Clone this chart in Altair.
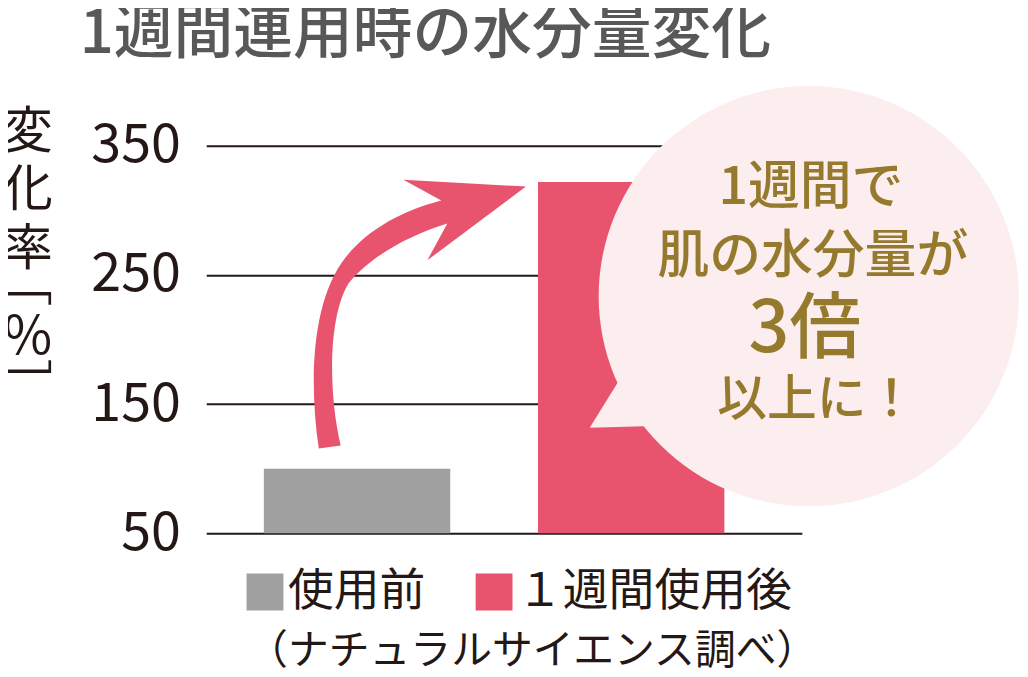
import altair as alt
import pandas as pd

# ---- data ----
categories = ["使用前", "１週間使用後"]
values = [100, 322]
bar_colors = ["#A0A0A0", "#E8546D"]
y_ticks = [50, 150, 250, 350]
title_text = "1週間連用時の水分量変化"
y_title_chars = ["変", "化", "率", "﹇", "%", "﹈"]
bubble_lines = ["1週間で", "肌の水分量が", "3倍", "以上に！"]
note_text = "（ナチュラルサイエンス調べ）"

FONT = "Noto Sans CJK JP"
PINK = "#E8546D"
BUBBLE = "#FCEDEF"
GOLD = "#957A2E"
DARK = "#231815"
TITLE_GRAY = "#595757"

# plot area origin on page: (207,145); plot size 598 x 389
OX, OY = 207, 145


def shape_path(cmds, cx, cy, unit):
    out = []
    for c in cmds:
        if isinstance(c, str):
            out.append(c)
        else:
            x, y = c
            out.append(f"{(x - cx) / unit:.4f},{(y - cy) / unit:.4f}")
    return " ".join(out)


arrow_cmds = [
    "M", (320, 449),
    "C", (310, 380), (313, 300), (347, 257),
    "C", (370, 228), (405, 210), (443, 200),
    "L", (405, 179),
    "L", (528, 186),
    "L", (429, 260),
    "L", (449, 223),
    "C", (410, 235), (372, 256), (350, 283),
    "C", (330, 315), (329, 390), (342, 446),
    "Z",
]
ARROW_C = (424, 314)
arrow_shape = shape_path(arrow_cmds, ARROW_C[0], ARROW_C[1], 150)

tail_cmds = ["M", (625, 375), "L", (592, 428), "L", (665, 426), "Z"]
TAIL_C = (627, 410)
tail_shape = shape_path(tail_cmds, TAIL_C[0], TAIL_C[1], 50)

df = pd.DataFrame({"cat": categories, "value": values})
one = pd.DataFrame({"k": [0]})

bars = alt.Chart(df).mark_bar().encode(
    x=alt.X(
        "cat:N",
        sort=categories,
        axis=None,
        scale=alt.Scale(paddingInner=0.32, paddingOuter=0.2464, align=0.4265),
    ),
    y=alt.Y(
        "value:Q",
        scale=alt.Scale(domain=[50, 350], nice=False, zero=False),
        axis=alt.Axis(
            values=y_ticks,
            grid=True,
            gridColor=DARK,
            gridWidth=2,
            gridOpacity=1,
            domain=False,
            ticks=False,
            labelFontSize=54,
            labelFont=FONT,
            labelColor=DARK,
            labelPadding=26,
            title=None,
        ),
    ),
    y2=alt.datum(50),
    color=alt.Color(
        "cat:N",
        sort=categories,
        scale=alt.Scale(domain=categories, range=bar_colors),
        legend=alt.Legend(
            orient="none",
            legendX=36,
            legendY=425,
            direction="horizontal",
            title=None,
            symbolType="square",
            symbolSize=1369,
            symbolStrokeWidth=0,
            symbolOpacity=1,
            labelFont=FONT,
            labelFontSize=46,
            labelColor=DARK,
            labelOffset=0,
            labelLimit=500,
            columnPadding=46,
        ),
    ),
)

# vertical y-axis title, one upright character per line
ytitle_pos = [(28, 132, 50), (28, 190, 50), (28, 250, 50), (28, 285, 50), (28, 338, 53), (28, 388, 50)]
ytitle_marks = []
for ch, (px, py, fs) in zip(y_title_chars, ytitle_pos):
    ytitle_marks.append(
        alt.Chart(one).mark_text(
            font=FONT, fontSize=fs, color=DARK, align="center", baseline="middle"
        ).encode(x=alt.value(px - OX), y=alt.value(py - OY), text=alt.value(ch))
    )

arrow = alt.Chart(one).mark_point(
    shape=arrow_shape, size=90000, filled=True, fill=PINK, opacity=1, strokeWidth=0
).encode(x=alt.value(ARROW_C[0] - OX), y=alt.value(ARROW_C[1] - OY))

bubble = alt.Chart(one).mark_point(
    shape="circle", size=422 * 422, filled=True, fill=BUBBLE, opacity=1, strokeWidth=0
).encode(x=alt.value(812 - OX), y=alt.value(296 - OY))

tail = alt.Chart(one).mark_point(
    shape=tail_shape, size=10000, filled=True, fill=BUBBLE, opacity=1, strokeWidth=0
).encode(x=alt.value(TAIL_C[0] - OX), y=alt.value(TAIL_C[1] - OY))

line_pos = [(814, 187, 52), (816, 257, 52), (808, 330, 72), (820, 401, 50)]
bubble_texts = []
for txt, (px, py, fs) in zip(bubble_lines, line_pos):
    bubble_texts.append(
        alt.Chart(one).mark_text(
            font=FONT, fontSize=fs, fontWeight=500, color=GOLD, align="center", baseline="middle"
        ).encode(x=alt.value(px - OX), y=alt.value(py - OY), text=alt.value(txt))
    )

title = alt.Chart(one).mark_text(
    font=FONT, fontSize=60, fontWeight=500, color=TITLE_GRAY, align="left", baseline="middle"
).encode(x=alt.value(80 - OX), y=alt.value(34 - OY), text=alt.value(title_text))

note = alt.Chart(one).mark_text(
    font=FONT, fontSize=41, color=DARK, align="left", baseline="middle"
).encode(x=alt.value(248 - OX), y=alt.value(653 - OY), text=alt.value(note_text))

chart = alt.layer(
    bars, arrow, bubble, tail, *bubble_texts, *ytitle_marks, title, note
).properties(
    width=598,
    height=389,
    padding={"left": 199, "top": 137, "right": 219, "bottom": 141},
    autosize=alt.AutoSizeParams(type="none"),
).configure_view(stroke=None)

chart.save("out.html", embed_options={"renderer": "svg", "actions": False})
